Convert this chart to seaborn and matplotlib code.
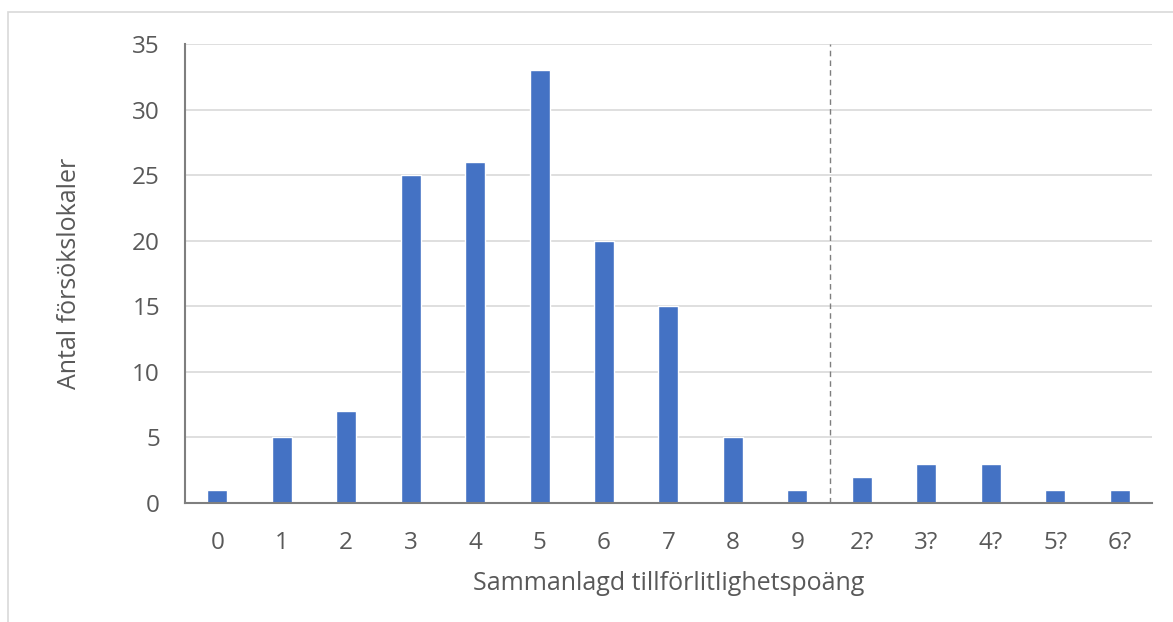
import pandas as pd
import matplotlib.pyplot as plt
import seaborn as sns
from matplotlib.patches import Rectangle

# -------------------------------
# Data
# -------------------------------
categories = ["0", "1", "2", "3", "4", "5", "6", "7", "8", "9", "2?", "3?", "4?", "5?", "6?"]
counts = [1, 5, 7, 25, 26, 33, 20, 15, 5, 1, 2, 3, 3, 1, 1]
y_ticks = [0, 5, 10, 15, 20, 25, 30, 35]

df = pd.DataFrame({"score": categories, "n": counts})

# -------------------------------
# Style
# -------------------------------
sns.set_style("white")
plt.rcParams['font.family'] = ['Open Sans', 'DejaVu Sans']
text_col = "#595959"

fig = plt.figure(figsize=(11.73, 6.22), dpi=100)
ax = fig.add_axes([0.1577, 0.1913, 0.8243, 0.7377])

sns.barplot(data=df, x="score", y="n", order=categories, color="#4472C4",
            width=0.31, saturation=1, ax=ax)

ax.set_ylim(0, 35)
ax.set_yticks(y_ticks)
ax.set_xlim(-0.5, len(categories) - 0.5)
ax.yaxis.grid(True, color="#D9D9D9", linewidth=1.2)
ax.set_axisbelow(True)

# dashed separator between certain and uncertain scores
ax.axvline(9.5, color="#7F7F7F", linestyle=(0, (4, 3)), linewidth=1)

for side in ["top", "right"]:
    ax.spines[side].set_visible(False)
ax.spines["left"].set_color("#7F7F7F")
ax.spines["bottom"].set_color("#7F7F7F")
ax.spines["left"].set_linewidth(1.5)
ax.spines["bottom"].set_linewidth(1.5)

ax.tick_params(axis="both", length=0, labelsize=17.5, colors=text_col)
ax.tick_params(axis="x", pad=20)
ax.tick_params(axis="y", pad=18)
ax.set_xlabel("Sammanlagd tillförlitlighetspoäng", fontsize=18, color=text_col, labelpad=12)
ax.set_ylabel("Antal försökslokaler", fontsize=18, color=text_col, labelpad=36)

# chart frame
fig.patches.append(Rectangle((8 / 1173, -0.1), 1.2, (622 - 12) / 622 + 0.1,
                             transform=fig.transFigure, fill=False,
                             edgecolor="#D9D9D9", linewidth=1.2))

fig.savefig("out.png", dpi=100)
